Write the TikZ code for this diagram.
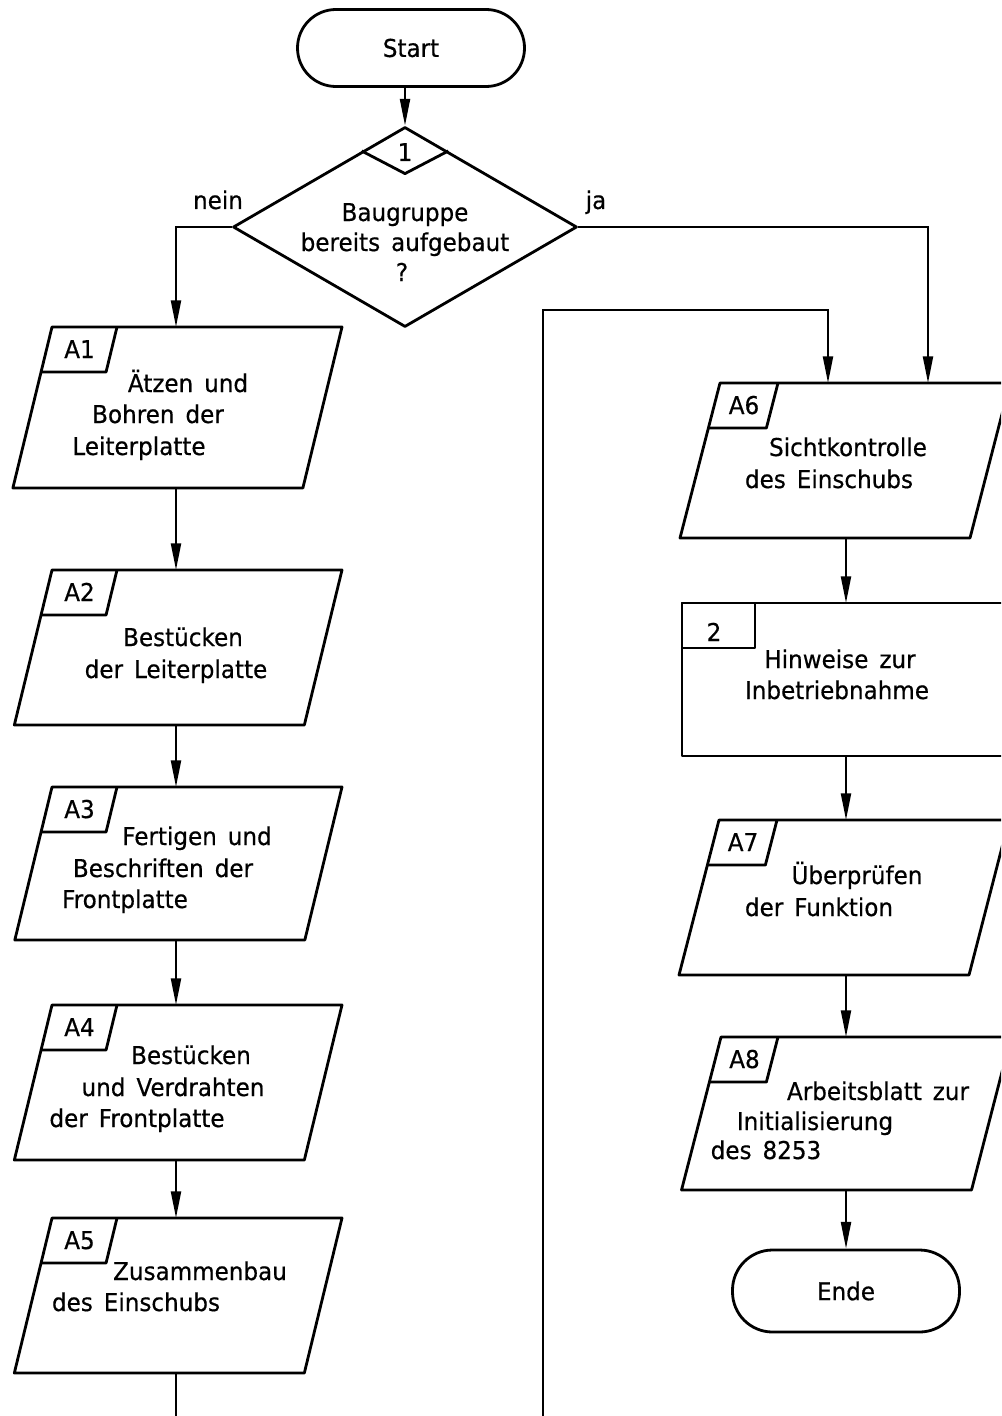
\documentclass[tikz,border=0pt]{standalone}
\usepackage{fontspec}
\setmainfont{DejaVu Sans}[FakeStretch=0.94,WordSpace=1.5,FakeBold=0.5]
\usetikzlibrary{shapes.geometric,arrows.meta,calc}
\newcommand{\parabox}[8]{% #1 name, #2 x TL, #3 y top, #4 width, #5 height, #6 label, #7 label width, #8 slant ratio
  \pgfmathsetmacro{\myslant}{#8*#5}
  \pgfmathsetmacro{\mylsl}{#8*45}
  \draw[box] (#2,#3) -- ++(#4,0) -- ++(-\myslant,#5) -- ++(-#4,0) -- cycle;
  \draw[box] (#2+#7,#3) -- (#2+#7-\mylsl,#3+45) -- (#2-\mylsl,#3+45);
  \node[txt,anchor=base] (#1-lbl) at (#2+#7/2-5,#3+31) {#6};
}
\begin{document}
\begin{tikzpicture}[x=0.75pt,y=-0.75pt,
  box/.style={line width=2.1pt, line join=round},
  conn/.style={line width=1.6pt},
  arr/.style={conn,-{Triangle[length=20pt,width=7.5pt]}},
  txt/.style={inner sep=0pt, font=\fontsize{18.4pt}{22pt}\selectfont},
  term/.style={draw, box, rectangle, inner sep=0pt, font=\fontsize{18.4pt}{22pt}\selectfont},
]
\clip (0,0) rectangle (1001,1416);
\fill[white] (0,0) rectangle (1001,1416);

% Start terminal
\node[term, minimum width=170.25pt, minimum height=57.75pt, rounded corners=28.8pt] (Start) at (411,48) {Start};

% Decision diamond
\node[draw, box, diamond, inner sep=0pt, minimum width=258pt, minimum height=150pt] (D) at (405,227) {};
\draw[box] ($(D.north)!0.25!(D.west)$) -- ($(D.north)+(0,48)$) -- ($(D.north)!0.25!(D.east)$);
\node[txt,anchor=base] (D-num) at (405,161) {1};
\node[txt,anchor=base] (D-l1) at (405,221) {Baugruppe};
\node[txt,anchor=base] (D-l2) at (405,251) {bereits aufgebaut};
\node[txt,anchor=base] (D-l3) at (402,281) {?};
\node[txt,anchor=base] (nein) at (218,209) {nein};
\node[txt,anchor=base] (ja) at (596,209) {ja};

% Left column
\parabox{A1}{52}{327}{290}{161}{A1}{65}{0.243}
\node[txt,anchor=base] (A1-l1) at (188,392) {Ätzen und};
\node[txt,anchor=base] (A1-l2) at (158,423) {Bohren der};
\node[txt,anchor=base] (A1-l3) at (139,455) {Leiterplatte};

\parabox{A2}{52}{570}{290}{155}{A2}{65}{0.243}
\node[txt,anchor=base] (A2-l1) at (183,646) {Bestücken};
\node[txt,anchor=base] (A2-l2) at (176,678) {der Leiterplatte};

\parabox{A3}{52}{787}{290}{153}{A3}{65}{0.243}
\node[txt,anchor=base] (A3-l1) at (197,845) {Fertigen und};
\node[txt,anchor=base] (A3-l2) at (163,877) {Beschriften der};
\node[txt,anchor=base] (A3-l3) at (125,908) {Frontplatte};

\parabox{A4}{52}{1005}{290}{155}{A4}{65}{0.243}
\node[txt,anchor=base] (A4-l1) at (191,1064) {Bestücken};
\node[txt,anchor=base] (A4-l2) at (173,1096) {und Verdrahten};
\node[txt,anchor=base] (A4-l3) at (137,1127) {der Frontplatte};

\parabox{A5}{52}{1218}{290}{155}{A5}{65}{0.243}
\node[txt,anchor=base] (A5-l1) at (200,1280) {Zusammenbau};
\node[txt,anchor=base] (A5-l2) at (136,1311) {des Einschubs};

% Right column
\parabox{A6}{720}{383}{290}{155}{A6}{58}{0.258}
\node[txt,anchor=base] (A6-l1) at (848,456) {Sichtkontrolle};
\node[txt,anchor=base] (A6-l2) at (829,488) {des Einschubs};

\draw[box] (682,603) rectangle (1012,756);
\draw[box] (682,603) rectangle (755,648);
\node[txt,anchor=base] (R2-lbl) at (714,641) {2};
\node[txt,anchor=base] (R2-l1) at (840,668) {Hinweise zur};
\node[txt,anchor=base] (R2-l2) at (837,699) {Inbetriebnahme};

\parabox{A7}{719}{820}{290}{155}{A7}{58}{0.258}
\node[txt,anchor=base] (A7-l1) at (857,884) {Überprüfen};
\node[txt,anchor=base] (A7-l2) at (819,916) {der Funktion};

\parabox{A8}{721}{1037}{290}{153}{A8}{57}{0.258}
\node[txt,anchor=base] (A8-l1) at (878,1100) {Arbeitsblatt zur};
\node[txt,anchor=base] (A8-l2) at (815,1130) {Initialisierung};
\node[txt,anchor=base] (A8-l3) at (766,1159) {des 8253};

% End terminal
\node[term, minimum width=170.25pt, minimum height=61.5pt, rounded corners=30pt] (Ende) at (846,1291) {Ende};

% connection points
\coordinate (A1in) at (176,327);  \coordinate (A1out) at (176,488);
\coordinate (A2in) at (176,570);  \coordinate (A2out) at (176,725);
\coordinate (A3in) at (176,787);  \coordinate (A3out) at (176,940);
\coordinate (A4in) at (176,1005); \coordinate (A4out) at (176,1160);
\coordinate (A5in) at (176,1218); \coordinate (A5out) at (176,1373);
\coordinate (A5end) at (176,1416);
\coordinate (A6inL) at (828,383); \coordinate (A6inR) at (928,383);
\coordinate (A6out) at (846,538);
\coordinate (R2in) at (846,603);  \coordinate (R2out) at (846,756);
\coordinate (A7in) at (846,820);  \coordinate (A7out) at (846,975);
\coordinate (A8in) at (846,1037); \coordinate (A8out) at (846,1190);
\coordinate (L0) at (543,1416);   \coordinate (L1) at (543,310);

% connectors
\draw[arr] (Start.south -| D.north) -- (D.north);
\draw[arr] (D.west) -| (A1in);
\draw[arr] (D.east) -| (A6inR);
\draw[arr] (A1out) -- (A2in);
\draw[arr] (A2out) -- (A3in);
\draw[arr] (A3out) -- (A4in);
\draw[arr] (A4out) -- (A5in);
\draw[conn] (A5out) -- (A5end);
\draw[arr] (L0) -- (L1) -| (A6inL);
\draw[arr] (A6out) -- (R2in);
\draw[arr] (R2out) -- (A7in);
\draw[arr] (A7out) -- (A8in);
\draw[arr] (A8out) -- (Ende.north);
\end{tikzpicture}
\end{document}
